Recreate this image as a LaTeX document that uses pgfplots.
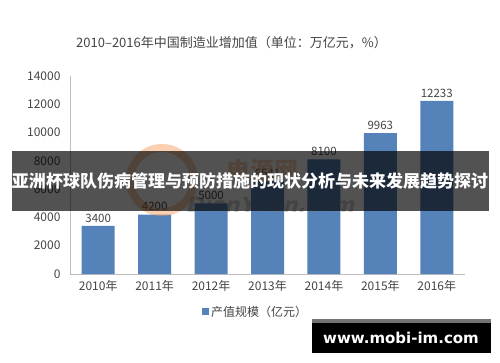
\documentclass[border=0pt]{standalone}
\usepackage{pgfplots}
\pgfplotsset{compat=1.18}
\usepackage{fontspec}
\setmainfont{Noto Sans CJK SC}
\newfontfamily\dejab{DejaVu Sans}
\definecolor{barblue}{HTML}{5482B9}
\definecolor{txtgray}{HTML}{454545}
\definecolor{axgray}{HTML}{BDBDBD}
\definecolor{wmorange}{HTML}{F29A55}
\begin{document}
\begin{tikzpicture}[x=1pt,y=1pt]
\fill[white] (0,0) rectangle (500,362);
\node[anchor=west, text=txtgray, font=\fontsize{13}{13}\selectfont, inner sep=0pt] at (76,319) {2010–2016年中国制造业增加值（单位：万亿元，\%）};
\begin{axis}[
  at={(70pt,88pt)}, anchor=south west,
  scale only axis, width=395pt, height=198pt,
  xmin=-0.5, xmax=6.5, ymin=0, ymax=14000,
  axis x line*=bottom, axis y line*=left,
  axis line style={axgray, line width=0.8pt},
  major tick length=0pt,
  xtick={0,1,2,3,4,5,6},
  xticklabels={2010年,2011年,2012年,2013年,2014年,2015年,2016年},
  ytick={0,2000,4000,6000,8000,10000,12000,14000},
  scaled y ticks=false,
  /pgf/number format/assume math mode=true,
  /pgf/number format/1000 sep={},
  yticklabel style={text=txtgray, font=\fontsize{12}{12}\selectfont, xshift=-6pt},
  xticklabel style={text=txtgray, font=\fontsize{12}{12}\selectfont, yshift=-3pt},
  ybar, bar width=33pt,
  nodes near coords,
  nodes near coords style={text=txtgray, font=\fontsize{11.5}{11.5}\selectfont, yshift=0pt},
  legend style={at={(0.47,-0.19)}, anchor=center, draw=none, fill=none,
    font=\fontsize{12}{12}\selectfont, text=txtgray},
  legend image code/.code={\fill[barblue] (0pt,-3.5pt) rectangle (7pt,3.5pt);},
]
\addplot[fill=barblue, draw=none] coordinates {(0,3400) (1,4200) (2,5000) (3,6541) (4,8100) (5,9963) (6,12233)};
\addlegendentry{产值规模（亿元）}
\end{axis}
% watermark
\draw[wmorange, opacity=0.45, line width=8pt] (162,182) circle (32);
\node[text=wmorange, opacity=0.45, font=\fontsize{24}{24}\selectfont\bfseries] at (262,192) {电源网};
\node[text=gray, opacity=0.35, font=\dejab\fontsize{21}{21}\selectfont\bfseries, xslant=0.25] at (272,157) {DianYuan.com};
% banner
\fill[black, opacity=0.68] (12,151) rectangle (489,211);
\node[text=white, font=\fontsize{17}{17}\selectfont\bfseries, inner sep=0pt] at (250,181) {亚洲杯球队伤病管理与预防措施的现状分析与未来发展趋势探讨};
% site box
\fill[black] (312,9) rectangle (491,43);
\fill[black!55] (312,39) rectangle (491,43);
\node[text=white, font=\dejab\fontsize{15}{15}\selectfont\bfseries, inner sep=0pt] at (401,24) {www.mobi-im.com};
\end{tikzpicture}
\end{document}
